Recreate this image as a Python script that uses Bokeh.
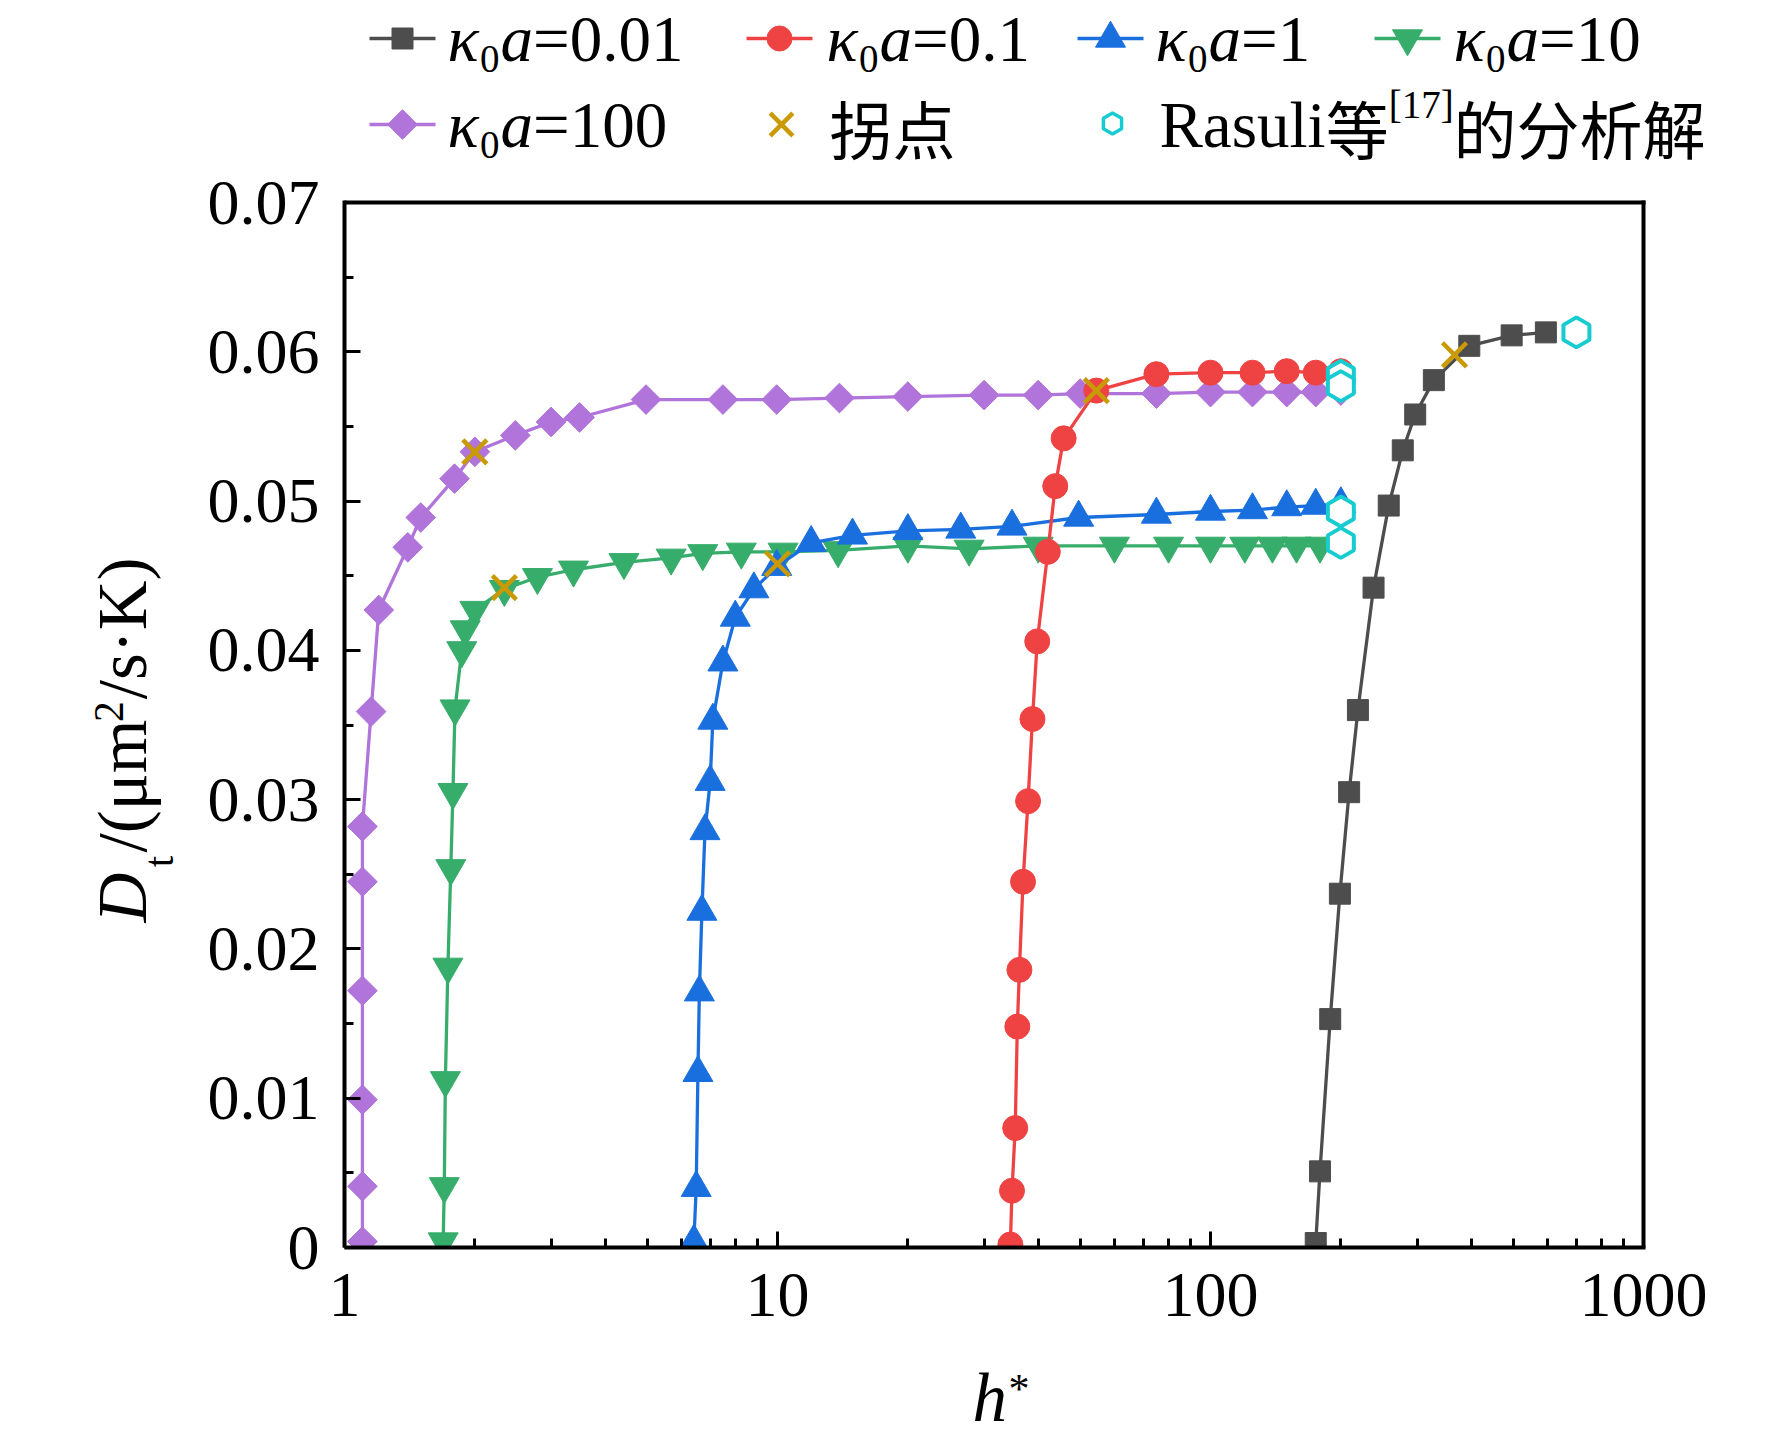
import numpy as np
from bokeh.plotting import figure
from bokeh.models import Range1d, FixedTicker, BasicTickFormatter, CustomJSTickFormatter
from bokeh.layouts import gridplot
from bokeh.embed import file_html
from bokeh.resources import INLINE
from bokeh.core.properties import value

# ---------------- data ----------------
black_h = [175, 179, 189, 199, 209, 219, 238, 258, 278, 297, 328, 396, 496, 595]
black_D = [0.0003, 0.0051, 0.0153, 0.0237, 0.0305, 0.0360, 0.0442, 0.0497, 0.0534,
           0.0558, 0.0581, 0.0604, 0.0611, 0.0613]

red_h = [34.5, 34.8, 35.4, 35.8, 36.2, 36.9, 37.9, 38.8, 39.8, 42.1, 43.8, 45.8, 54.5,
         75, 100, 125, 150, 175, 200]
red_D = [0.0002, 0.0038, 0.0080, 0.0148, 0.0186, 0.0245, 0.0299, 0.0354, 0.0406, 0.0466,
         0.0510, 0.0542, 0.0574, 0.0585, 0.0586, 0.0586, 0.0587, 0.0586, 0.0587]

blue_h = [6.41, 6.49, 6.55, 6.60, 6.69, 6.80, 6.99, 7.09, 7.48, 7.99, 8.82, 9.96, 11.96,
          14.9, 20, 26.5, 34.8, 49.6, 75, 100, 125, 150, 175, 200]
blue_D = [0.0004, 0.0040, 0.0117, 0.0171, 0.0225, 0.0279, 0.0312, 0.0353, 0.0392, 0.0422,
          0.0441, 0.0456, 0.0472, 0.0477, 0.0480, 0.0481, 0.0483, 0.0489, 0.0491, 0.0493,
          0.0494, 0.0496, 0.0497, 0.0498]

green_h = [1.69, 1.70, 1.71, 1.733, 1.76, 1.78, 1.80, 1.866, 1.90, 2.0, 2.34, 2.79, 3.38,
           4.42, 5.68, 6.72, 8.25, 10.3, 13.8, 20, 27.7, 40, 60, 80, 100, 120, 139, 158, 179]
green_D = [0.0004, 0.0041, 0.0112, 0.0188, 0.0254, 0.0305, 0.0361, 0.0400, 0.0414, 0.0427,
           0.0441, 0.0449, 0.0454, 0.0459, 0.0462, 0.0465, 0.0466, 0.0466, 0.0467, 0.0470,
           0.0468, 0.0470, 0.0470, 0.0470, 0.0470, 0.0470, 0.0470, 0.0470, 0.0470]

purple_h = [1.10, 1.10, 1.10, 1.10, 1.10, 1.10, 1.152, 1.20, 1.40, 1.50, 1.795, 2.0, 2.48,
            3.0, 3.49, 4.97, 7.48, 9.96, 13.9, 20, 30, 40, 50, 75, 100, 125, 150, 175, 200]
purple_D = [0.0004, 0.0041, 0.0099, 0.0172, 0.0245, 0.0282, 0.0359, 0.0427, 0.0469, 0.0489,
            0.0515, 0.0533, 0.0544, 0.0553, 0.0556, 0.0568, 0.0568, 0.0568, 0.0569, 0.0570,
            0.0571, 0.0571, 0.0572, 0.0572, 0.0573, 0.0573, 0.0573, 0.0573, 0.0574]

infl_h = [366, 54.5, 10.0, 2.34, 2.0]
infl_D = [0.0598, 0.0574, 0.0458, 0.0442, 0.0533]

ras_h = [700, 200, 200, 200, 200]
ras_D = [0.0613, 0.0584, 0.0493, 0.0472, 0.0577]

x_ticks = [1, 10, 100, 1000]
x_minor = [m * d for d in (1, 10, 100) for m in range(2, 10)]
y_ticks = [0, 0.01, 0.02, 0.03, 0.04, 0.05, 0.06, 0.07]
y_minor = [0.005, 0.015, 0.025, 0.035, 0.045, 0.055, 0.065]

legend_tails = ["=0.01", "=0.1", "=1", "=10", "=100"]

# ---------------- styles ----------------
C_BLACK = "#4D4D4D"
C_RED = "#EF4343"
C_BLUE = "#1A6FDF"
C_GREEN = "#37AD6B"
C_PURPLE = "#B074DB"
C_CROSS = "#C99A06"
C_HEX = "#16CCD0"
SERIF = "Liberation Serif"
CJK = "Noto Sans CJK SC"
LW = 3.3

# page geometry (px)
YL_W = 200                      # width of the strip that carries the y title
FL, FB = 344, 1247              # left / bottom of the data box
BOX_R, BOX_T = 1643, 202        # right / top of the data box (x=1000, y=0.07)
FR, FT = 1764, 8                # drawing frame (extends over the legend area)
BB = 110                        # bottom border of the main plot (tick labels)
XL_H = 80                       # height of the strip that carries the x title
XMAX = 10 ** (3 * (FR - FL) / (BOX_R - FL))
YMAX = 0.07 * (FB - FT) / (FB - BOX_T)
PX_X = 3 / (BOX_R - FL)         # decades per px
PX_Y = 0.07 / (FB - BOX_T)      # data per px


def dx(px):
    return 10 ** ((px - FL) * PX_X)


def dy(py):
    return (FB - py) * PX_Y


main = figure(x_axis_type="log", x_range=Range1d(1, XMAX), y_range=Range1d(0, YMAX),
              frame_width=FR - FL, frame_height=FB - FT,
              min_border_left=FL - YL_W, min_border_right=0,
              min_border_top=FT, min_border_bottom=BB,
              output_backend="svg", toolbar_location=None)
main.grid.visible = False
main.outline_line_color = None
main.background_fill_color = "white"
main.border_fill_color = "white"

for ax in (main.xaxis[0], main.yaxis[0]):
    ax.axis_line_width = 4
    ax.axis_line_color = "black"
    ax.major_tick_in = 16
    ax.major_tick_out = 0
    ax.minor_tick_in = 9
    ax.minor_tick_out = 0
    ax.major_tick_line_width = 3
    ax.minor_tick_line_width = 3
    ax.major_label_text_font = SERIF
    ax.major_label_text_font_size = "64px"
    ax.major_label_text_color = "black"

main.xaxis.bounds = (1, 10 ** (3 + 2 * PX_X))
main.yaxis.bounds = (0, 0.07 + 2 * PX_Y)
main.xaxis.ticker = FixedTicker(ticks=x_ticks, minor_ticks=x_minor)
main.xaxis.formatter = BasicTickFormatter(use_scientific=False)
main.xaxis.major_label_standoff = 26
main.yaxis.ticker = FixedTicker(ticks=y_ticks, minor_ticks=y_minor)
main.yaxis.formatter = CustomJSTickFormatter(code="return tick == 0 ? '0' : tick.toFixed(2)")
main.yaxis.major_label_standoff = 25

# top and right sides of the box
main.line([1, 1000], [0.07, 0.07], line_color="black", line_width=4, line_cap="square")
main.line([1000, 1000], [0, 0.07], line_color="black", line_width=4, line_cap="square")


def series(h, D, color, marker, size, angle=0.0):
    main.line(h, D, line_color=color, line_width=LW)
    main.scatter(h, D, marker=marker, size=size, angle=angle,
                 fill_color=color, line_color=color, line_width=1)


series(purple_h, purple_D, C_PURPLE, "square", 21, np.pi / 4)
series(green_h, green_D, C_GREEN, "inverted_triangle", 30)
series(blue_h, blue_D, C_BLUE, "triangle", 30)
series(red_h, red_D, C_RED, "circle", 25)
series(black_h, black_D, C_BLACK, "square", 21)
main.scatter(infl_h, infl_D, marker="x", size=34, line_color=C_CROSS, line_width=4.5)
main.scatter(ras_h, ras_D, marker="hex", size=30, angle=np.pi / 6,
             fill_color="white", line_color=C_HEX, line_width=4)

# ---------------- legend (inside the drawing frame, above the box) ----------------
LF = 65  # legend font px


def txt(px, py, s, font=SERIF, style="normal", size=LF):
    main.text(x=[dx(px)], y=[dy(py)], text=[s], text_font=value(font),
              text_font_style=style, text_font_size=f"{size:.1f}px", text_color="black",
              text_align="left", text_baseline="middle")


def kappa_text(px, py, tail):
    txt(px, py, "κ", style="italic")
    px += 0.5 * LF
    txt(px, py + 20, "0", size=0.6 * LF)
    px += 0.3 * LF + 1
    txt(px, py, "a", style="italic")
    px += 0.5 * LF
    txt(px, py, tail)


ROW1, ROW2 = 38, 124
items = [  # (line start, marker, colour, size, angle, text start, row y)
    (369, "square", C_BLACK, 21, 0.0, 447, ROW1),
    (746, "circle", C_RED, 25, 0.0, 826, ROW1),
    (1077, "triangle", C_BLUE, 30, 0.0, 1155, ROW1),
    (1374, "inverted_triangle", C_GREEN, 30, 0.0, 1453, ROW1),
    (369, "square", C_PURPLE, 21, np.pi / 4, 447, ROW2),
]
for (lx, mk, col, sz, ang, tx, ry), tail in zip(items, legend_tails):
    main.line([dx(lx), dx(lx + 66)], [dy(ry), dy(ry)], line_color=col, line_width=LW)
    main.scatter([dx(lx + 33)], [dy(ry)], marker=mk, size=sz, angle=ang,
                 fill_color=col, line_color=col)
    kappa_text(tx, ry, tail)

main.scatter([dx(781)], [dy(ROW2)], marker="x", size=32, line_color=C_CROSS, line_width=4.5)
txt(829, ROW2 + 2, "拐点", font=CJK, size=63)
main.scatter([dx(1112)], [dy(ROW2 - 1)], marker="hex", size=21, angle=np.pi / 6,
             fill_color="white", line_color=C_HEX, line_width=3.5)
cx = 1159
txt(cx, ROW2, "Rasuli")
cx += 2.556 * LF
txt(cx, ROW2 + 2, "等", font=CJK, size=63)
cx += 63
txt(cx, ROW2 - 20, "[17]", size=0.6 * LF)
cx += 1.666 * 0.6 * LF
txt(cx, ROW2 + 2, "的分析解", font=CJK, size=63)

# ---------------- y title strip ----------------
ylab = figure(x_range=Range1d(0, YL_W), y_range=Range1d(-FB, -FT),
              frame_width=YL_W, frame_height=FB - FT, min_border_left=0,
              min_border_right=0, min_border_top=FT, min_border_bottom=BB,
              x_axis_type=None, y_axis_type=None,
              output_backend="svg", toolbar_location=None)
ylab.outline_line_color = None
ylab.grid.visible = False

AF = 69
ypieces = [("D", "italic", 1.0, 122, 0.80), ("t", "normal", 0.6, 158, 0.36),
           ("/(μm", "normal", 1.0, 122, 1.889), ("2", "normal", 0.6, 108, 0.55),
           ("/s·K)", "normal", 1.0, 122, 1.972)]
ypos = 922.0
for s, style, scale, xm, adv in ypieces:
    fs = AF * scale
    ylab.text(x=[xm], y=[-ypos], text=[s], angle=np.pi / 2,
              text_font=value(SERIF), text_font_style=style,
              text_font_size=f"{fs:.1f}px", text_color="black",
              text_align="left", text_baseline="middle")
    ypos -= adv * fs

# ---------------- x title strip ----------------
XT = FB + BB  # page y of the strip top
xlab = figure(x_range=Range1d(FL, FR), y_range=Range1d(-(XT + XL_H), -XT),
              frame_width=FR - FL, frame_height=XL_H, min_border_left=0,
              min_border_right=0, min_border_top=0, min_border_bottom=0,
              x_axis_type=None, y_axis_type=None,
              output_backend="svg", toolbar_location=None)
xlab.outline_line_color = None
xlab.grid.visible = False
xlab.text(x=[972], y=[-1397], text=["h"], text_font=value(SERIF), text_font_style="italic",
          text_font_size=f"{AF}px", text_color="black",
          text_align="left", text_baseline="middle")
xlab.text(x=[1008], y=[-1388], text=["*"], text_font=value(SERIF),
          text_font_size="42px", text_color="black",
          text_align="left", text_baseline="middle")

layout = gridplot([[ylab, main], [None, xlab]], toolbar_location=None)
open("out.html", "w").write(file_html(layout, INLINE))
